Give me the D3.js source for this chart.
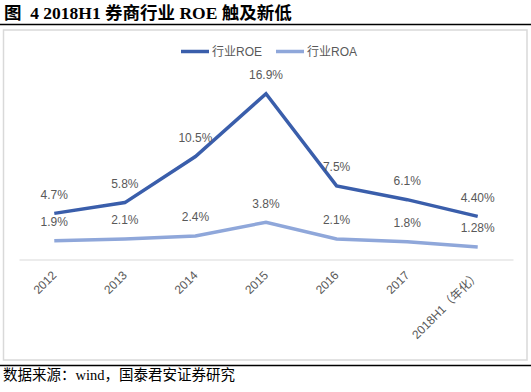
<!DOCTYPE html>
<html><head><meta charset="utf-8">
<script src="https://cdn.jsdelivr.net/npm/d3@7"></script>
<style>
html,body{margin:0;padding:0;background:#fff;}
svg{display:block;}
</style></head>
<body>
<svg id="chart" width="531" height="392"></svg>
<script>
const categories = ["2012","2013","2014","2015","2016","2017","2018H1（年化）"];
const roeValues = [4.7, 5.8, 10.5, 16.9, 7.5, 6.1, 4.40];
const roaValues = [1.9, 2.1, 2.4, 3.8, 2.1, 1.8, 1.28];
const roeLabels = ["4.7%","5.8%","10.5%","16.9%","7.5%","6.1%","4.40%"];
const roaLabels = ["1.9%","2.1%","2.4%","3.8%","2.1%","1.8%","1.28%"];
const seriesNames = ["行业ROE","行业ROA"];
const titleText = "图  4 2018H1 券商行业 ROE 触及新低";
const sourceText = "数据来源：wind，国泰君安证券研究";

const svg = d3.select("#chart");
const W = 531, H = 392;
const roeColor = "#3A5EAB", roaColor = "#8FA7DA";
const textColor = "#595959";
const labelFont = "'Liberation Sans','Noto Sans CJK SC',sans-serif";
const serifFont = "'Liberation Serif','Noto Sans CJK SC',serif";

// title
svg.append("text").attr("x", 4).attr("y", 19)
  .attr("font-family", serifFont).attr("font-weight", "bold")
  .attr("font-size", 17.5).attr("fill", "#000")
  .attr("xml:space", "preserve").style("white-space", "pre").text(titleText);
svg.append("line").attr("x1", 0).attr("x2", W).attr("y1", 24.5).attr("y2", 24.5)
  .attr("stroke", "#000").attr("stroke-width", 1.5);

// frame
svg.append("rect").attr("x", 3.5).attr("y", 30).attr("width", 523.5).attr("height", 330)
  .attr("fill", "#fff").attr("stroke", "#d9d9d9").attr("stroke-width", 1.5);

// bottom rule + source
svg.append("line").attr("x1", 0).attr("x2", W).attr("y1", 365.5).attr("y2", 365.5)
  .attr("stroke", "#000").attr("stroke-width", 1.5);
svg.append("text").attr("x", 3).attr("y", 380)
  .attr("font-family", serifFont).attr("font-size", 14.5).attr("fill", "#000").text(sourceText);

// scales
const x = d3.scaleBand().domain(categories).range([19, 513]);
const y = d3.scaleLinear().domain([0, 20]).range([259.5, 63.3]);
const cx = d => x(d) + x.bandwidth() / 2;

// axis
const xAxis = d3.axisBottom(x).tickSize(0).tickPadding(0);
const gx = svg.append("g").attr("transform", "translate(0,259.5)").call(xAxis);
gx.select(".domain").attr("stroke", "#d9d9d9").attr("stroke-width", 1.2);
gx.selectAll(".tick text")
  .attr("font-family", labelFont).attr("font-size", 12).attr("fill", textColor)
  .attr("text-anchor", "end")
  .attr("x", 0).attr("y", 0).attr("dy", "0.35em")
  .attr("transform", "translate(0,13.5) rotate(-45)");

// lines
const line = vals => d3.line().x((d, i) => cx(categories[i])).y(d => y(d))(vals);
svg.append("path").attr("d", line(roaValues)).attr("fill", "none")
  .attr("stroke", roaColor).attr("stroke-width", 3.5).attr("stroke-linejoin", "miter");
svg.append("path").attr("d", line(roeValues)).attr("fill", "none")
  .attr("stroke", roeColor).attr("stroke-width", 3.5).attr("stroke-linejoin", "miter");

// data labels
function labels(vals, labs) {
  svg.append("g").selectAll("text").data(vals).join("text")
    .attr("x", (d, i) => cx(categories[i]))
    .attr("y", d => y(d) - 14.5)
    .attr("text-anchor", "middle")
    .attr("font-family", labelFont).attr("font-size", 12).attr("fill", textColor)
    .text((d, i) => labs[i]);
}
labels(roeValues, roeLabels);
labels(roaValues, roaLabels);

// legend
const legend = [
  {name: seriesNames[0], color: roeColor, x: 181},
  {name: seriesNames[1], color: roaColor, x: 276}
];
const lg = svg.append("g");
legend.forEach(l => {
  lg.append("line").attr("x1", l.x).attr("x2", l.x + 28).attr("y1", 51.5).attr("y2", 51.5)
    .attr("stroke", l.color).attr("stroke-width", 3.5);
  lg.append("text").attr("x", l.x + 31).attr("y", 51.5).attr("dy", "0.35em")
    .attr("font-family", labelFont).attr("font-size", 12).attr("fill", textColor).text(l.name);
});
</script>
</body></html>
